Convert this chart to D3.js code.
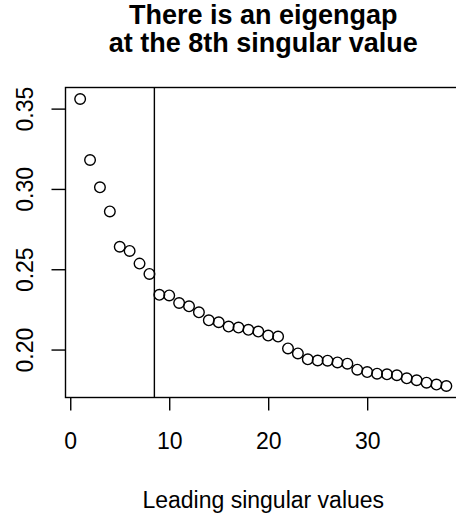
<!DOCTYPE html>
<html>
<head>
<meta charset="utf-8">
<script src="https://cdn.jsdelivr.net/npm/d3@7"></script>
<style>
html, body { margin: 0; padding: 0; background: #fff; }
svg { display: block; font-family: "Liberation Sans", Arial, Helvetica, sans-serif; }
</style>
</head>
<body>
<svg id="chart" width="456" height="518"></svg>
<script>
const titleLines = ["There is an eigengap", "at the 8th singular value"];
const xLabel = "Leading singular values";
const index = d3.range(1, 39);
const singularValues = [
  0.356, 0.318, 0.301, 0.286, 0.264, 0.2614, 0.2535, 0.2471,
  0.2341, 0.2337, 0.2290, 0.2269, 0.2232, 0.2182, 0.2170, 0.2143,
  0.2137, 0.2123, 0.2112, 0.2087, 0.2081, 0.2007, 0.1976, 0.1939,
  0.1932, 0.1931, 0.1920, 0.1912, 0.1875, 0.1860, 0.1850, 0.1846,
  0.1840, 0.1821, 0.1809, 0.1794, 0.1782, 0.1773
];
const xTicks = [0, 10, 20, 30];
const yTicks = [0.20, 0.25, 0.30, 0.35];
const gapAt = 8.5;

const FONT = '"Liberation Sans", Arial, Helvetica, sans-serif';
const svg = d3.select("#chart");
const plot = { left: 65.5, right: 461, top: 87.5, bottom: 397.5 };

const xmin = d3.min(index), xmax = d3.max(index);
const ymin = d3.min(singularValues), ymax = d3.max(singularValues);
const xpad = (xmax - xmin) * 0.04, ypad = (ymax - ymin) * 0.04;

const x = d3.scaleLinear().domain([xmin - xpad, xmax + xpad]).range([plot.left, plot.right]);
const y = d3.scaleLinear().domain([ymin - ypad, ymax + ypad]).range([plot.bottom, plot.top]);

const stroke = 1.4;

// box
svg.append("rect")
  .attr("x", plot.left).attr("y", plot.top)
  .attr("width", plot.right - plot.left).attr("height", plot.bottom - plot.top)
  .attr("fill", "none").attr("stroke", "#000").attr("stroke-width", stroke);

// x axis
const xAxis = d3.axisBottom(x).tickValues(xTicks).tickSize(13).tickFormat(d3.format("d"));
const gx = svg.append("g").attr("transform", `translate(0,${plot.bottom})`).call(xAxis);
gx.select(".domain").remove();
gx.selectAll("line").attr("stroke", "#000").attr("stroke-width", stroke);
gx.selectAll("text")
  .attr("y", 51.5).attr("dy", null)
  .attr("font-size", 23).attr("fill", "#000")
  .attr("font-family", FONT);

// y axis
const yAxis = d3.axisLeft(y).tickValues(yTicks).tickSize(14).tickFormat(d3.format(".2f"));
const gy = svg.append("g").attr("transform", `translate(${plot.left},0)`).call(yAxis);
gy.select(".domain").remove();
gy.selectAll("line").attr("stroke", "#000").attr("stroke-width", stroke);
gy.selectAll("text").remove();
gy.selectAll(".tick").append("text")
  .attr("transform", "translate(-32.5,0) rotate(-90)")
  .attr("text-anchor", "middle")
  .attr("font-size", 23).attr("fill", "#000")
  .attr("font-family", FONT)
  .text(d => d3.format(".2f")(d));

// vertical line at the gap
svg.append("line")
  .attr("x1", x(gapAt)).attr("x2", x(gapAt))
  .attr("y1", plot.top).attr("y2", plot.bottom)
  .attr("stroke", "#000").attr("stroke-width", stroke);

// points
svg.append("g").selectAll("circle")
  .data(singularValues)
  .join("circle")
  .attr("cx", (d, i) => x(index[i]))
  .attr("cy", d => y(d))
  .attr("r", 5.3)
  .attr("fill", "none")
  .attr("stroke", "#000")
  .attr("stroke-width", stroke);

// title (one text element, two lines)
const cx = (plot.left + plot.right) / 2;
const title = svg.append("text")
  .attr("x", cx).attr("y", 24)
  .attr("text-anchor", "middle")
  .attr("font-size", 27)
  .attr("font-weight", "bold")
  .attr("font-family", FONT);
title.selectAll("tspan")
  .data(titleLines)
  .join("tspan")
  .attr("x", cx)
  .attr("dy", (d, i) => i === 0 ? 0 : 28)
  .text(d => d);

// x label
svg.append("text")
  .attr("x", cx).attr("y", 508)
  .attr("text-anchor", "middle")
  .attr("font-size", 23)
  .attr("font-family", FONT)
  .text(xLabel);
</script>
</body>
</html>
